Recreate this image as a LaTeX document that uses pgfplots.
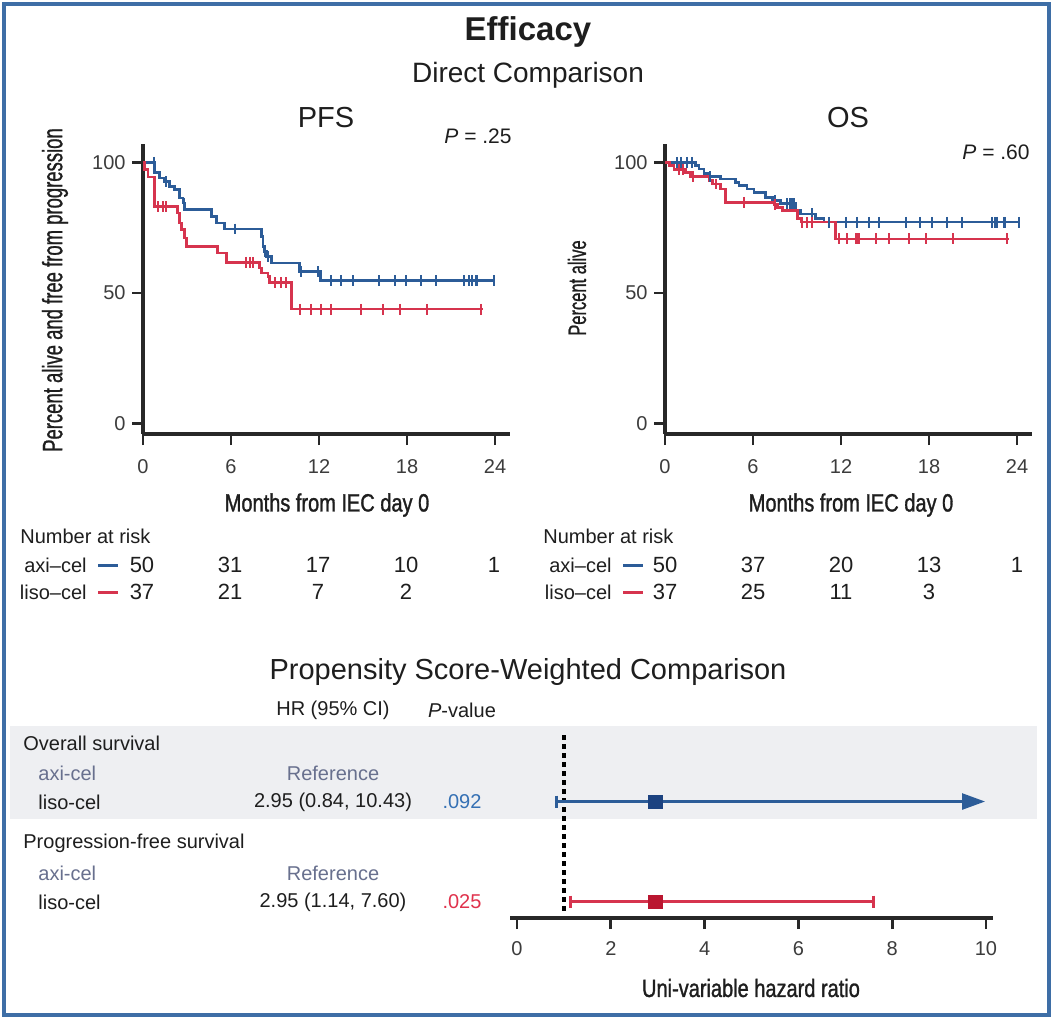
\documentclass[border=0pt]{standalone}
\usepackage{fontspec}
\setmainfont{Liberation Sans}
\newfontfamily\condfont[FakeStretch=0.66, FakeBold=0.8]{Liberation Sans}
\newfontfamily\medcond[FakeStretch=0.8, FakeBold=1.2]{Liberation Sans}
\usepackage{pgfplots}
\pgfplotsset{compat=1.18}
\usetikzlibrary{arrows.meta}

\definecolor{axiblue}{RGB}{44,92,152}
\definecolor{lisored}{RGB}{214,52,78}
\definecolor{sqblue}{RGB}{28,66,128}
\definecolor{sqred}{RGB}{186,22,48}
\definecolor{pblue}{RGB}{52,112,180}
\definecolor{pred}{RGB}{224,50,76}
\definecolor{framecol}{RGB}{62,110,166}
\definecolor{axisgray}{RGB}{40,40,40}
\definecolor{tickgray}{RGB}{60,60,60}
\definecolor{txt}{RGB}{30,30,30}
\definecolor{refgray}{RGB}{104,112,142}
\definecolor{bandgray}{RGB}{238,239,242}

\newcommand{\fs}[1]{\fontsize{#1}{#1}\selectfont}

\pgfplotsset{
  km/.style={
    scale only axis, width=183.375pt, height=144.97pt,
    xmin=0, xmax=25, ymin=-4, ymax=107,
    axis x line=bottom, axis y line=left,
    axis line style={-, line width=1.6pt, draw=axisgray},
    xtick={0,6,12,18,24}, ytick={0,50,100},
    tick align=outside, major tick length=5.5pt,
    every tick/.style={line width=1.2pt, draw=axisgray},
    tick label style={font=\fs{10}, text=tickgray, inner sep=3pt},
    xticklabel style={yshift=-4pt},
    /pgf/number format/assume math mode=true,
    clip=false,
  },
  steps/.style={const plot, line width=1.3pt, no marks},
  cens/.style={only marks, mark=|, mark size=2.7pt, mark options={line width=1pt}},
}

% Progression-free survival
\pgfplotstableread{
t s
0 100
0.8 96
1.14 94
1.48 92.7
1.82 90.8
2.16 89.5
2.5 86.3
2.73 84.4
2.84 81.9
4.66 79.3
5.0 76.8
5.57 74.5
8.07 71.6
8.18 67.8
8.3 65.9
8.4 64
8.75 61.4
10.68 58.2
12.1 54.8
24.0 54.8
}\pfsaxi
\pgfplotstableread{
t s
0.75 100
1.6 92.7
2.78 84.4
6.25 74.5
8.33 65.9
8.5 64
10.8 58.2
11.93 58.2
12.84 54.8
13.52 54.8
14.3 54.8
16.1 54.8
17.2 54.8
17.95 54.8
18.98 54.8
20.0 54.8
21.9 54.8
22.2 54.8
22.4 54.8
22.7 54.8
22.8 54.8
23.9 54.8
}\pfsaxicens
\pgfplotstableread{
t s
0 100
0.1 97.2
0.35 94.4
0.8 83.1
2.34 80.6
2.5 76.8
2.61 74.2
2.84 71
2.95 67.8
5.07 65.3
5.68 61.7
7.95 59.5
8.07 57.6
8.52 56.3
8.64 54
10.11 43.8
23.15 43.8
}\pfsliso
\pgfplotstableread{
t s
0.99 83.1
1.36 83.1
1.59 83.1
7.05 61.7
7.27 61.7
7.5 61.7
8.98 54
9.43 54
9.77 54
10.68 43.8
11.48 43.8
12.16 43.8
12.84 43.8
14.89 43.8
16.36 43.8
17.5 43.8
19.36 43.8
23.07 43.8
}\pfslisocens

% Overall survival
\pgfplotstableread{
t s
0 100
2.09 98.7
2.32 97.5
2.66 95.7
3.0 94.5
3.8 93.6
4.82 92.4
5.05 91.1
5.6 89.8
6.07 88.5
6.86 86.6
7.32 85.4
7.89 84.2
8.9 81.6
9.25 80.3
10.27 78.4
10.84 77.1
24.1 77.1
}\osaxi
\pgfplotstableread{
t s
0.84 100
1.07 100
1.52 100
1.86 100
3.1 94.5
7.5 85.4
8.34 84.2
8.5 84.2
8.65 84.2
8.8 84.2
10.05 80.3
11.18 77.1
12.32 77.1
13.11 77.1
13.9 77.1
14.6 77.1
16.4 77.1
17.4 77.1
18.2 77.1
19.25 77.1
20.27 77.1
22.3 77.1
22.5 77.1
22.66 77.1
23.1 77.1
23.2 77.1
24.1 77.1
}\osaxicens
\pgfplotstableread{
t s
0 100
0.3 98.7
0.61 97.3
1.41 96.2
1.75 94.6
3.0 93.0
3.23 91.7
3.8 89.8
4.14 84.7
7.43 83.8
7.66 82.8
8.0 81.6
9.02 78.4
9.3 77.1
11.64 70.7
23.45 70.7
}\osliso
\pgfplotstableread{
t s
0.95 97.3
1.2 97.3
1.9 94.6
3.5 91.7
5.39 84.7
7.5 83.8
9.36 77.1
9.7 77.1
10.05 77.1
11.86 70.7
12.43 70.7
13.0 70.7
13.1 70.7
13.2 70.7
14.36 70.7
15.27 70.7
16.6 70.7
17.8 70.7
19.6 70.7
23.34 70.7
}\oslisocens

\begin{document}
\begin{tikzpicture}[x=0.5pt, y=-0.5pt, every node/.style={text=txt, inner sep=0pt}]
\useasboundingbox (0,0) rectangle (1053,1019);
\fill[white] (0,0) rectangle (1053,1019);
\draw[framecol, line width=2pt] (4,4) rectangle (1049,1015);

% headings
\node[font=\bfseries\fs{16.5}] at (528,32) {Efficacy};
\node[font=\fs{14}] at (528,75) {Direct Comparison};
\node[font=\fs{14.5}] at (326,118) {PFS};
\node[font=\fs{14.5}] at (848,118) {OS};
\node[font=\fs{10.5}] at (478,136) {\textit{P} = .25};
\node[font=\fs{10.5}] at (996,152) {\textit{P} = .60};

% PFS panel (lower-left corner at 143px, 434px)
\begin{axis}[km, at={(71.5pt,-217pt)}, anchor=south west]
  \addplot[steps, axiblue] table[x=t, y=s] {\pfsaxi};
  \addplot[cens, axiblue] table[x=t, y=s] {\pfsaxicens};
  \addplot[steps, lisored] table[x=t, y=s] {\pfsliso};
  \addplot[cens, lisored] table[x=t, y=s] {\pfslisocens};
\end{axis}
\node[rotate=90, font=\condfont\fs{14}] at (55,290) {Percent alive and free from progression};
\node[font=\medcond\fs{12.5}] at (327,505) {Months from IEC day 0};

% OS panel (lower-left corner at 665px, 434px)
\begin{axis}[km, at={(332.5pt,-217pt)}, anchor=south west]
  \addplot[steps, axiblue] table[x=t, y=s] {\osaxi};
  \addplot[cens, axiblue] table[x=t, y=s] {\osaxicens};
  \addplot[steps, lisored] table[x=t, y=s] {\osliso};
  \addplot[cens, lisored] table[x=t, y=s] {\oslisocens};
\end{axis}
\node[rotate=90, font=\condfont\fs{12.5}] at (577,288) {Percent alive};
\node[font=\medcond\fs{12.5}] at (851,505) {Months from IEC day 0};

% numbers at risk
\begin{scope}[every node/.append style={font=\fs{10}}]
  \node[anchor=west] at (20,536) {Number at risk};
  \node[anchor=east] at (87,565) {axi–cel};
  \node[anchor=east] at (87,592) {liso–cel};
  \node[anchor=west] at (543,536) {Number at risk};
  \node[anchor=east] at (612,565) {axi–cel};
  \node[anchor=east] at (612,592) {liso–cel};
\end{scope}
\draw[axiblue, line width=1.5pt] (98,565) -- (118,565);
\draw[lisored, line width=1.5pt] (98,592) -- (118,592);
\draw[axiblue, line width=1.5pt] (623,565) -- (643,565);
\draw[lisored, line width=1.5pt] (623,592) -- (643,592);
\begin{scope}[every node/.append style={font=\fs{11}}]
  \foreach \v [count=\i from 0] in {50,31,17,10,1}
    \node at (142+88*\i,565) {\v};
  \foreach \v [count=\i from 0] in {37,21,7,2}
    \node at (142+88*\i,592) {\v};
  \foreach \v [count=\i from 0] in {50,37,20,13,1}
    \node at (665+88*\i,565) {\v};
  \foreach \v [count=\i from 0] in {37,25,11,3}
    \node at (665+88*\i,592) {\v};
\end{scope}

% propensity score weighted comparison
\node[font=\fs{14.5}] at (528,672) {Propensity Score-Weighted Comparison};
\fill[bandgray] (10,726) rectangle (1037,819);
\begin{scope}[every node/.append style={font=\fs{10}}]
  \node at (333,710) {HR (95\% CI)};
  \node at (462,710) {\textit{P}-value};
  \node[anchor=west] at (23,743) {Overall survival};
  \node[anchor=west, text=refgray] at (38,773) {axi-cel};
  \node[text=refgray] at (333,773) {Reference};
  \node[anchor=west] at (38,802) {liso-cel};
  \node at (333,802) {2.95 (0.84, 10.43)};
  \node[text=pblue] at (462,802) {.092};
  \node[anchor=west] at (23,843) {Progression-free survival};
  \node[anchor=west, text=refgray] at (38,873) {axi-cel};
  \node[text=refgray] at (333,873) {Reference};
  \node[anchor=west] at (38,902) {liso-cel};
  \node at (333,902) {2.95 (1.14, 7.60)};
  \node[text=pred] at (462,902) {.025};
\end{scope}

% forest plot (lower-left corner at 510px, 918px)
\begin{axis}[
  at={(255pt,-459pt)}, anchor=south west,
  scale only axis, width=241.5pt, height=94pt,
  xmin=-0.15, xmax=10.15, ymin=-918, ymax=-730,
  axis x line=bottom, axis y line=none,
  axis line style={-, line width=2.2pt, draw=axisgray},
  xtick={0,2,4,6,8,10}, ytick=\empty,
  tick align=outside, major tick length=5.5pt,
  every tick/.style={line width=1.4pt, draw=axisgray},
  tick label style={font=\fs{10}, text=tickgray, inner sep=3pt},
  xticklabel style={yshift=-3pt},
  /pgf/number format/assume math mode=true,
  clip=false,
]
  \addplot[black, line width=1.6pt, dash pattern=on 2.5pt off 2pt] coordinates {(1,-735) (1,-912)};
  % overall survival
  \addplot[axiblue, line width=1.3pt, -{Triangle[length=11.5pt, width=8pt]}] coordinates {(0.84,-801.5) (9.98,-801.5)};
  \addplot[axiblue, only marks, mark=|, mark size=3pt, mark options={line width=1.3pt}] coordinates {(0.84,-801.5)};
  \addplot[sqblue, only marks, mark=square*, mark size=3.3pt] coordinates {(2.95,-801.5)};
  % progression-free survival
  \addplot[lisored, line width=1.3pt] coordinates {(1.14,-901.5) (7.60,-901.5)};
  \addplot[lisored, only marks, mark=|, mark size=3pt, mark options={line width=1.3pt}] coordinates {(1.14,-901.5) (7.60,-901.5)};
  \addplot[sqred, only marks, mark=square*, mark size=3.3pt] coordinates {(2.95,-901.5)};
\end{axis}
\node[font=\medcond\fs{12.5}] at (751,988) {Uni-variable hazard ratio};
\end{tikzpicture}
\end{document}
